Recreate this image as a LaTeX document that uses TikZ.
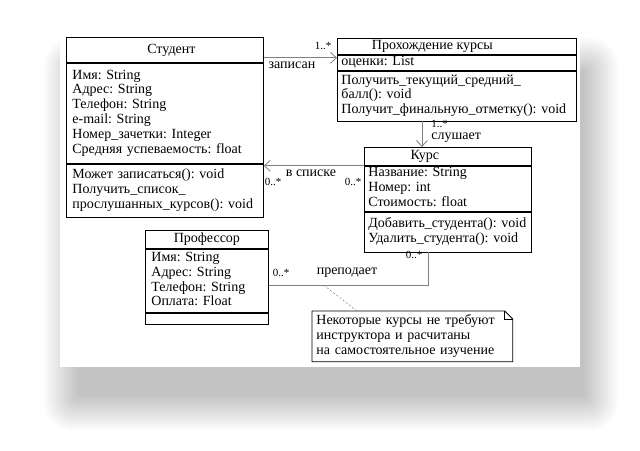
\documentclass[tikz,border=0pt]{standalone}
\usepackage{fontspec}
\setmainfont{Liberation Serif}
\usetikzlibrary{positioning,arrows.meta}
\frenchspacing

\tikzset{
  chead/.style={draw, inner sep=0pt, align=center},
  cbody/.style={draw, inner ysep=0pt, align=left,
    execute at begin node=\strut, execute at end node=\strut},
  notebody/.style={inner ysep=0pt, align=left,
    execute at begin node=\strut, execute at end node=\strut},
  assoc/.style={draw=gray, line width=0.8pt},
  navig/.style={assoc, -{Straight Barb[length=6pt,width=11pt]}},
  mult/.style={inner sep=0pt, font=\fontsize{11}{12}\selectfont},
}

\begin{document}
\begin{tikzpicture}[x=1pt, y=-1pt, line width=0.8pt,
    font=\fontsize{14}{14.8}\selectfont]
        \useasboundingbox (0,0) rectangle (640,450);
        % Shadow and card
        \foreach \i in {0,...,29}
          \fill[black, opacity=0.007, rounded corners=\i pt]
            (78-1.2*\i,72-1.2*\i) rectangle (584+1.2*\i,396+1.2*\i);
        \fill[white] (60,20) rectangle (580,367);
        % Student
        \node[chead, minimum width=197pt, minimum height=25pt, anchor=north west] (stud-head) at (66,37) {\hspace*{13pt}Студент};
        \node[cbody, minimum height=100pt, text width=185pt, inner xsep=6pt, below=0pt of stud-head] (stud-attr) {Имя: String\\Адрес: String\\Телефон: String\\e-mail: String\\Номер\_зачетки: Integer\\Средняя успеваемость: float};
        \node[cbody, minimum height=53pt, text width=185pt, inner xsep=6pt, below=0pt of stud-attr] (stud-meth) {Может записаться():~void\\Получить\_список\_\\прослушанных\_курсов():~void};
        % Course attendance
        \node[chead, minimum width=239pt, minimum height=16pt, anchor=north west] (proh-head) at (337,38) {\hspace*{-49pt}Прохождение курсы};
        \node[cbody, minimum height=15pt, text width=231pt, inner xsep=4pt, below=0pt of proh-head] (proh-attr) {оценки: List};
        \node[cbody, minimum height=50pt, text width=231pt, inner xsep=4pt, below=0pt of proh-attr] (proh-meth) {Получить\_текущий\_средний\_\\балл():~void\\Получит\_финальную\_отметку():~void};
        % Course
        \node[chead, minimum width=167pt, minimum height=18pt, anchor=north west] (kurs-head) at (364,147) {\hspace*{-46pt}Курс};
        \node[cbody, minimum height=45pt, text width=159pt, inner xsep=4pt, below=0pt of kurs-head] (kurs-attr) {Название: String\\Номер: int\\Стоимость: float};
        \node[cbody, minimum height=40pt, text width=159pt, inner xsep=4pt, below=0pt of kurs-attr] (kurs-meth) {Добавить\_студента():~void\\Удалить\_студента():~void};
        % Professor
        \node[chead, minimum width=123pt, minimum height=18pt, anchor=north west] (prof-head) at (145,230) {Профессор};
        \node[cbody, minimum height=63pt, text width=111pt, inner xsep=6pt, below=0pt of prof-head] (prof-attr) {Имя: String\\Адрес: String\\Телефон: String\\Оплата: Float};
        \node[draw, minimum width=123pt, minimum height=11pt, inner sep=0pt, below=0pt of prof-attr] (prof-meth) {};
        % Note
        \node[notebody, text width=192pt, inner xsep=4pt, minimum height=50pt, anchor=north west] (note) at (312,311) {Некоторые курсы не требуют\\инструктора и расчитаны\\на самостоятельное изучение};
        \draw (note.north west) -- ([xshift=-8pt]note.north east) -- ([yshift=-8pt]note.north east) -- (note.south east) -- (note.south west) -- cycle;
        \draw ([xshift=-8pt]note.north east) |- ([yshift=-8pt]note.north east);
        % Associations
        \coordinate (zap) at ([yshift=5pt]stud-head.south east);
        \draw[navig] (zap) -- (zap -| proh-attr.west);
        \draw[navig] (kurs-head.south west) -- (kurs-head.south west -| stud-meth.east);
        \coordinate (slu) at ([xshift=-26pt]kurs-head.north);
        \draw[navig] (slu |- proh-meth.south) -- (slu);
        \coordinate (prep) at ([xshift=-20pt]kurs-meth.south);
        \draw[assoc] (prep) |- ([yshift=-4.5pt]prof-attr.east);
        \draw[assoc, line width=0.5pt, dash pattern=on 2pt off 2pt] ([xshift=55pt,yshift=-4.5pt]prof-attr.east) -- ([xshift=45pt]note.north west);
        % Labels
        \node[mult] (m-zap) at (323,46) {1..*};
        \node (l-zap) at (292,65) {записан};
        \node[mult] (m-spis-s) at (273,182) {0..*};
        \node (l-spis) at (311,173) {в списке};
        \node[mult] (m-spis-k) at (353,182) {0..*};
        \node[mult, anchor=west] (m-slu) at (431,124) {1..*};
        \node[anchor=west, inner sep=0pt] (l-slu) at (431,138) {слушает};
        \node[mult] (m-prep-k) at (414,255) {0..*};
        \node[mult] (m-prep-p) at (281,273) {0..*};
        \node (l-prep) at (347,273) {преподает};
\end{tikzpicture}
\end{document}
